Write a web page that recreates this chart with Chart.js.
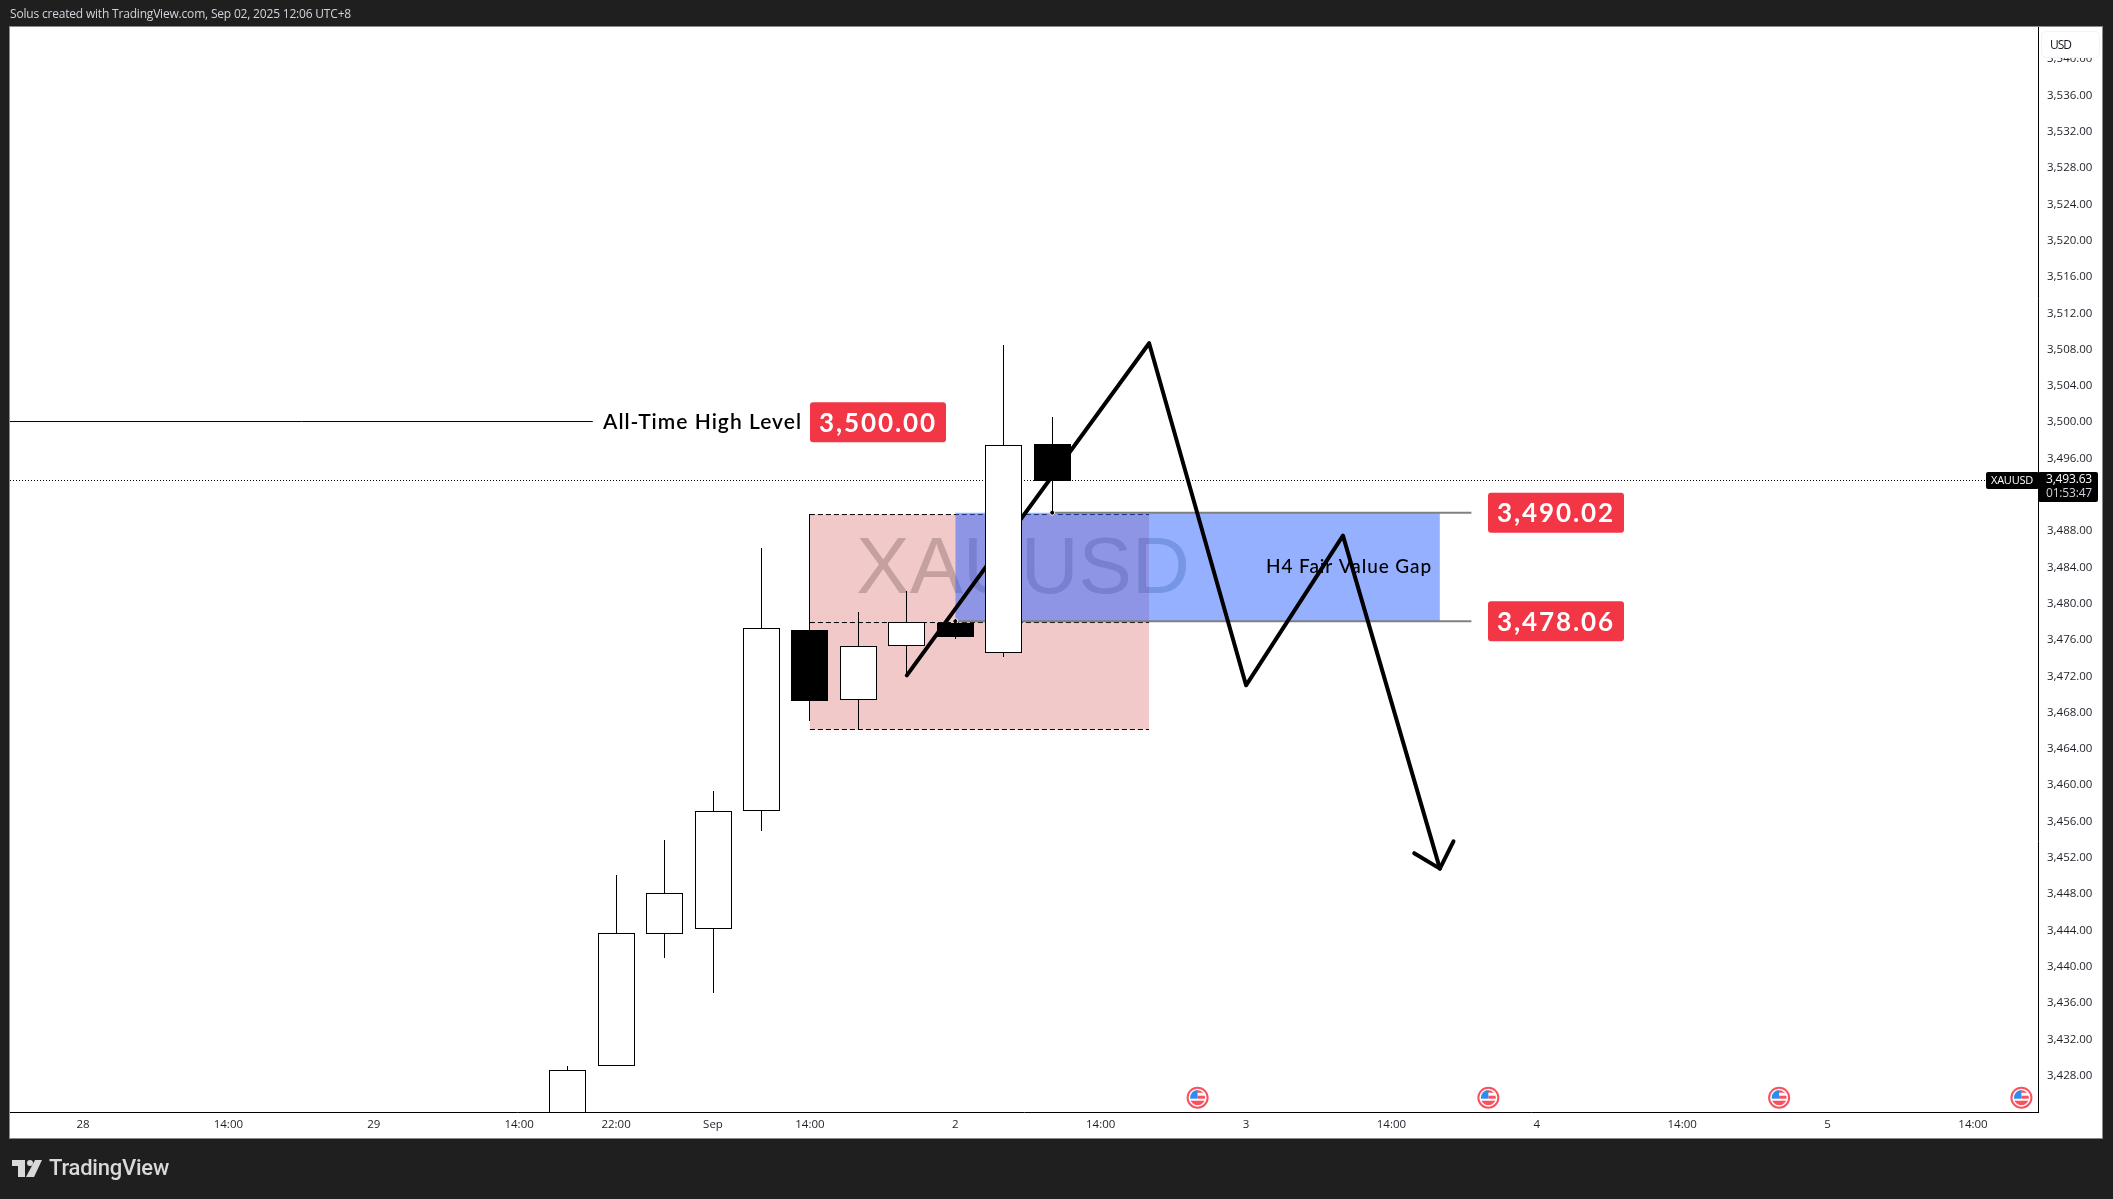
<!DOCTYPE html>
<html>
<head>
<meta charset="utf-8">
<title>XAUUSD</title>
<script src="https://cdn.jsdelivr.net/npm/chart.js@4/dist/chart.umd.js"></script>
<style>
  html, body { margin: 0; padding: 0; background: #1f1f1f; overflow: hidden; }
  canvas { display: block; }
</style>
</head>
<body>
<canvas id="chart" width="2113" height="1199"></canvas>
<script>
// candles, x = 4h bar number counted from the "28" tick
const barIndex = [10, 11, 12, 13, 14, 15, 16, 17, 18, 19, 20];
const opens = [3412, 3429, 3443.6, 3444.2, 3457.1, 3477.1, 3469.4, 3475.3, 3477.9, 3474.6, 3497.6];
const highs = [3429.1, 3450.1, 3454, 3459.3, 3486.1, 3489.9, 3479.1, 3481.4, 3478.3, 3508.5, 3500.6];
const lows = [3410, 3429, 3441, 3437.1, 3455, 3467.1, 3466.1, 3472.1, 3476.1, 3474.1, 3490];
const closes = [3428.6, 3443.7, 3448.1, 3457.1, 3477.3, 3469.3, 3475.3, 3478, 3476.3, 3497.5, 3493.5];

const xTickBars = [0, 3, 6, 9, 11, 13, 15, 18, 21, 24, 27, 30, 33, 36, 39];
const xTickLabels = ['28', '14:00', '29', '14:00', '22:00', 'Sep', '14:00', '2', '14:00', '3', '14:00', '4', '14:00', '5', '14:00'];
const yTickValues = [3428, 3432, 3436, 3440, 3444, 3448, 3452, 3456, 3460, 3464, 3468, 3472, 3476, 3480, 3484, 3488, 3492, 3496, 3500, 3504, 3508, 3512, 3516, 3520, 3524, 3528, 3532, 3536, 3540];

// drawings
const zigzagBars = [17, 22, 24, 26, 28];
const zigzagPrices = [3472.1, 3508.7, 3471, 3487.5, 3450.8];
const arrowBars = [27.47, 28, 28.28];
const arrowPrices = [3452.5, 3450.8, 3453.8];
const flagBars = [23, 29, 35, 40];
const lastLine = 3493.57;
const athLine = 3500.07;
const athPrice = 3500;
const gapTop = 3490.02;
const gapBottom = 3478.06;
const pinkTop = 3489.82;
const pinkMid = 3477.92;
const pinkBottom = 3466.13;
const xMin = -1.506;
const xMax = 40.342;
const yMin = 3423.98;
const yMax = 3543.549;

function pts(bars, prices) {
  return bars.map((b, i) => ({ x: b, y: prices[i] }));
}

function flat(from, to, price) {
  return [{ x: from, y: price }, { x: to, y: price }];
}

function lineSet(label, data, order, extra) {
  return Object.assign({
    type: 'scatter', label: label, data: data, order: order, showLine: true,
    pointRadius: 0, borderColor: '#000', backgroundColor: '#000', borderWidth: 1,
  }, extra);
}

function fitText(ctx, text, x, y, font, width, color) {
  ctx.font = font;
  ctx.letterSpacing = '0px';
  const w = ctx.measureText(text).width;
  ctx.letterSpacing = (width - w) / text.length + 'px';
  ctx.fillStyle = color;
  ctx.textAlign = 'left';
  ctx.textBaseline = 'middle';
  ctx.fillText(text, x, y);
  ctx.letterSpacing = '0px';
}

function redLabel(ctx, text, x, yc, w) {
  ctx.fillStyle = '#f23645';
  ctx.beginPath();
  ctx.roundRect(x, yc - 20, w, 40, 3);
  ctx.fill();
  fitText(ctx, text, x + 9, yc + 1, 'bold 26px Lato', 118, '#fff');
}

function drawFlag(ctx, x, y) {
  ctx.save();
  ctx.beginPath();
  ctx.arc(x, y, 10, 0, Math.PI * 2);
  ctx.fillStyle = '#fff';
  ctx.fill();
  ctx.strokeStyle = '#f7525f';
  ctx.lineWidth = 2;
  ctx.stroke();
  ctx.beginPath();
  ctx.arc(x, y, 7.5, 0, Math.PI * 2);
  ctx.clip();
  ctx.fillStyle = '#f7525f';
  ctx.fillRect(x - 8, y - 8, 16, 3);
  ctx.fillRect(x, y - 2, 8, 3);
  ctx.fillRect(x - 8, y + 3, 16, 5);
  ctx.fillStyle = '#2d8cf0';
  ctx.fillRect(x - 8, y - 8, 8, 9);
  ctx.restore();
}

function drawLogo(ctx) {
  ctx.fillStyle = '#d9d9d9';
  ctx.fillRect(12, 1160, 13, 6);
  ctx.fillRect(18, 1160, 7, 17);
  ctx.beginPath();
  ctx.arc(30, 1163, 3, 0, Math.PI * 2);
  ctx.fill();
  ctx.beginPath();
  ctx.moveTo(35, 1160);
  ctx.lineTo(42, 1160);
  ctx.lineTo(34, 1177);
  ctx.lineTo(26, 1177);
  ctx.closePath();
  ctx.fill();
  fitText(ctx, 'TradingView', 49, 1169, '500 22px Roboto', 120, '#d9d9d9');
}

const tvPlugin = {
  id: 'tv',
  beforeDraw(chart) {
    const ctx = chart.ctx;
    ctx.save();
    ctx.fillStyle = '#1f1f1f';
    ctx.fillRect(0, 0, 2113, 1199);
    ctx.fillStyle = '#fff';
    ctx.fillRect(10, 27, 2093, 1112);
    ctx.strokeStyle = '#8a8a8a';
    ctx.lineWidth = 1;
    ctx.strokeRect(9.5, 26.5, 2093, 1112);
    fitText(ctx, 'Solus created with TradingView.com, Sep 02, 2025 12:06 UTC+8', 10, 15, '12px "Open Sans"', 341, '#d1d4dc');
    drawLogo(ctx);
    ctx.restore();
  },
  // keep the candles on whole pixels like the original
  afterDatasetsUpdate(chart) {
    chart.getSortedVisibleDatasetMetas().forEach(meta => {
      if (meta.type != 'bar') return;
      meta.data.forEach(el => {
        el.x = Math.floor(el.x + 0.1) + 0.5;
        el.y = Math.round(el.y);
        el.base = Math.round(el.base);
      });
    });
  },
  beforeDatasetsDraw(chart) {
    const ctx = chart.ctx;
    ctx.save();
    ctx.font = '80px "Liberation Sans"';
    ctx.fillStyle = '#c2c8ca';
    ctx.textAlign = 'center';
    ctx.textBaseline = 'middle';
    ctx.fillText('XAUUSD', 1023, 571);
    ctx.restore();
  },
  afterDatasetDraw(chart, args) {
    if (args.meta.label != 'fvg') return;
    const ctx = chart.ctx;
    ctx.save();
    fitText(ctx, 'H4 Fair Value Gap', 1266, 567, '500 19px Lato', 166, '#000');
    ctx.restore();
  },
  afterDraw(chart) {
    const ctx = chart.ctx;
    const ys = chart.scales.y;
    const xs = chart.scales.x;
    ctx.save();
    flagBars.forEach(b => drawFlag(ctx, xs.getPixelForValue(b), 1097.7));

    fitText(ctx, 'All-Time High Level', 603, ys.getPixelForValue(athPrice), '600 21px Lato', 199, '#000');
    redLabel(ctx, '3,500.00', 810, ys.getPixelForValue(athPrice), 136);
    redLabel(ctx, '3,490.02', 1488, ys.getPixelForValue(gapTop), 136);
    redLabel(ctx, '3,478.06', 1488, ys.getPixelForValue(gapBottom), 136);

    // USD badge sits over the top tick
    ctx.fillStyle = '#fff';
    ctx.strokeStyle = '#f0f3fa';
    ctx.beginPath();
    ctx.roundRect(2041.5, 31.5, 58, 26, 4);
    ctx.fill();
    ctx.stroke();
    fitText(ctx, 'USD', 2050, 45.5, '12px "Open Sans"', 21, '#131722');

    // last price tags
    ctx.fillStyle = '#000';
    ctx.beginPath();
    ctx.roundRect(1986, 472, 53, 17, 2);
    ctx.fill();
    ctx.beginPath();
    ctx.roundRect(2038, 472, 60, 30, 2);
    ctx.fill();
    fitText(ctx, 'XAUUSD', 1991, 480.5, '11px "Open Sans"', 42, '#fff');
    fitText(ctx, '3,493.63', 2046, 480, '12px "Open Sans"', 46, '#fff');
    fitText(ctx, '01:53:47', 2046, 493.5, '12px "Open Sans"', 46, '#d1d4dc');
    ctx.restore();
  },
};

new Chart('chart', {
  type: 'bar',
  data: {
    datasets: [
      {
        label: 'body', data: barIndex.map((b, i) => ({ x: b, y: [opens[i], closes[i]] })), order: 1,
        barThickness: 37, borderWidth: 1, borderColor: '#000', borderSkipped: false, inflateAmount: 0,
        backgroundColor: c => (closes[c.dataIndex] >= opens[c.dataIndex] ? '#fff' : '#000'),
      },
      {
        label: 'wick', data: barIndex.map((b, i) => ({ x: b, y: [lows[i], highs[i]] })), order: 2,
        barThickness: 1, borderWidth: 0, inflateAmount: 0, backgroundColor: '#000',
      },
      lineSet('last', flat(xMin, 39.5, lastLine), 3, { borderDash: [1, 2] }),
      lineSet('ath', flat(xMin, 10.52, athLine), 3),
      lineSet('zigzag', pts(zigzagBars, zigzagPrices), 4, { borderWidth: 4, borderCapStyle: 'round', borderJoinStyle: 'round' }),
      lineSet('arrow', pts(arrowBars, arrowPrices), 4, { borderWidth: 4, borderCapStyle: 'round', borderJoinStyle: 'round' }),
      lineSet('gapTopLine', flat(20, 28.65, gapTop), 5, { borderColor: '#808080', borderWidth: 2, pointRadius: [2.5, 0], pointBackgroundColor: '#000', pointBorderColor: '#fff', pointBorderWidth: 1 }),
      lineSet('gapBottomLine', flat(18, 28.65, gapBottom), 5, { borderColor: '#808080', borderWidth: 2, pointRadius: [2.5, 0], pointBackgroundColor: '#000', pointBorderColor: '#fff', pointBorderWidth: 1 }),
      lineSet('fvg', flat(18, 28, gapTop), 6, { borderWidth: 0, fill: { value: gapBottom }, backgroundColor: 'rgba(41,98,255,0.5)' }),
      lineSet('pinkMid', flat(15, 22, pinkMid), 7, { borderDash: [5, 3] }),
      lineSet('pinkBottom', flat(15, 22, pinkBottom), 7, { borderDash: [5, 3] }),
      lineSet('pink', flat(15, 22, pinkTop), 8, { borderDash: [5, 3], fill: { value: pinkBottom }, backgroundColor: 'rgba(204,40,40,0.25)' }),
    ],
  },
  options: {
    responsive: false,
    animation: false,
    events: [],
    layout: { padding: { left: 10, top: 27, right: 10, bottom: 60 } },
    plugins: { legend: { display: false }, tooltip: { enabled: false } },
    datasets: { bar: { grouped: false } },
    scales: {
      x: {
        type: 'linear', min: xMin, max: xMax, offset: false,
        grid: { display: false, drawTicks: false },
        border: { display: true, color: '#000', width: 1 },
        afterBuildTicks: axis => { axis.ticks = xTickBars.map(b => ({ value: b })); },
        afterFit: axis => { axis.height = 27; },
        ticks: {
          autoSkip: false, maxRotation: 0, padding: 6, color: '#1c1f26',
          font: { family: '"Open Sans"', size: 11.5 },
          callback: v => xTickLabels[xTickBars.indexOf(v)],
        },
      },
      y: {
        type: 'linear', position: 'right', min: yMin, max: yMax,
        grid: { display: false, drawTicks: false },
        border: { display: true, color: '#000', width: 1 },
        afterBuildTicks: axis => { axis.ticks = yTickValues.map(v => ({ value: v })); },
        afterFit: axis => { axis.width = 65; },
        ticks: {
          autoSkip: false, padding: 9, color: '#1c1f26',
          font: { family: '"Open Sans"', size: 11.5 },
          callback: v => v.toLocaleString('en-US', { minimumFractionDigits: 2 }),
        },
      },
    },
  },
  plugins: [tvPlugin],
});
</script>
</body>
</html>
